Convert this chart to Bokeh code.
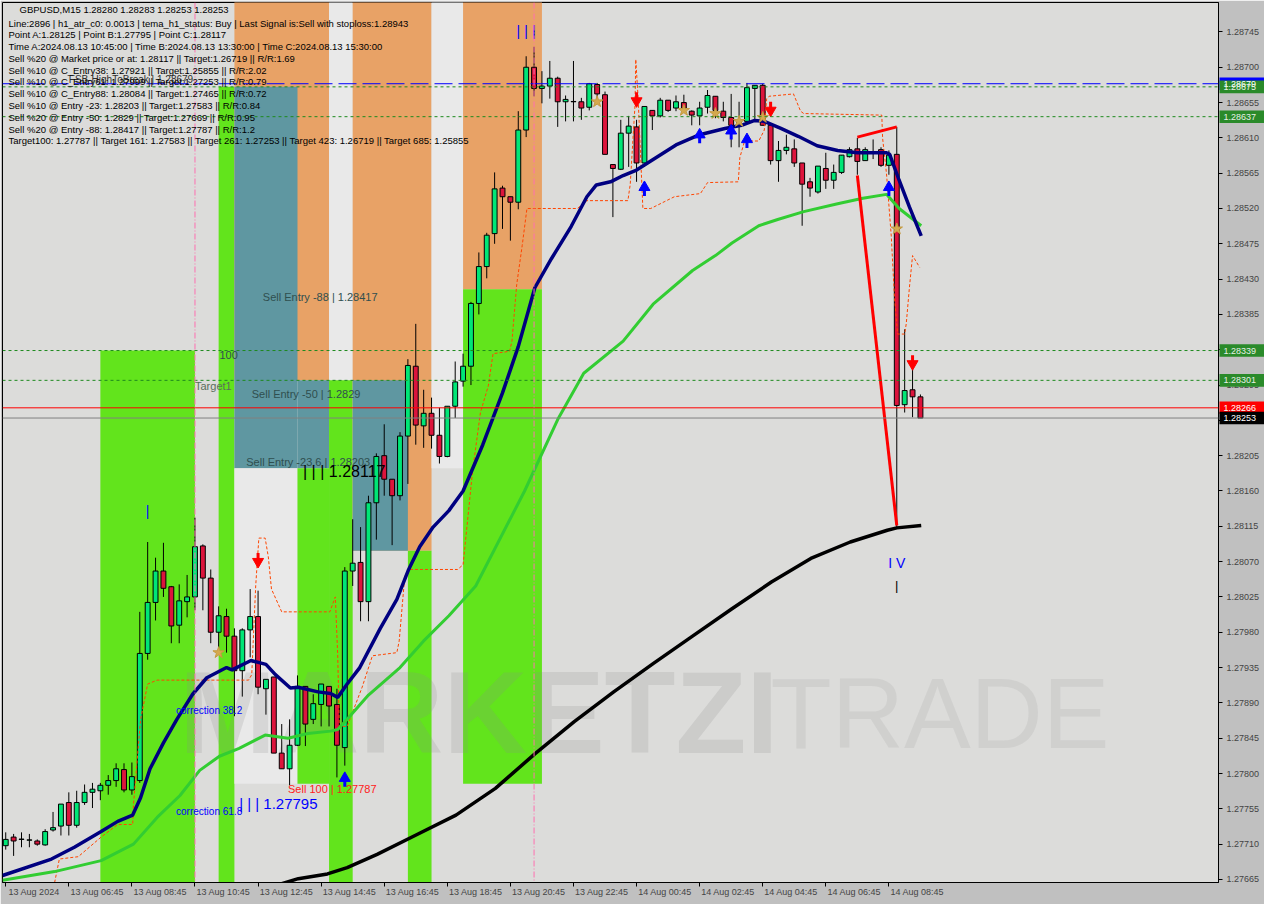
from bokeh.plotting import figure
from bokeh.layouts import row
from bokeh.models import Range1d, FixedTicker, PrintfTickFormatter, Label, Span
from bokeh.embed import file_html
from bokeh.resources import INLINE
from bokeh.core.properties import value

# ---------------- candles (GBPUSD M15, bar 0 = 13 Aug 04:45) ----------------
opens = [
    1.27708, 1.27719, 1.27716, 1.27715, 1.27714, 1.27709, 1.27728, 1.27733, 1.27763, 1.27734,
    1.27763, 1.27776, 1.27778, 1.27785, 1.27791, 1.27805, 1.27779, 1.27791, 1.27953, 1.28018,
    1.28058, 1.28038, 1.27989, 1.28019, 1.28025, 1.28090, 1.28049, 1.27980, 1.28000, 1.27975,
    1.27931, 1.27983, 1.28000, 1.27908, 1.27923, 1.27826, 1.27806, 1.27836, 1.27911, 1.27869,
    1.27888, 1.27911, 1.27888, 1.27833, 1.28058, 1.28069, 1.28019, 1.28145, 1.28205, 1.28175,
    1.28154, 1.28230, 1.28319, 1.28243, 1.28259, 1.28231, 1.28204, 1.28268, 1.28300, 1.28319,
    1.28399, 1.28446, 1.28488, 1.28546, 1.28535, 1.28528, 1.28620, 1.28700, 1.28673, 1.28676,
    1.28686, 1.28656, 1.28656, 1.28656, 1.28649, 1.28678, 1.28665, 1.28576, 1.28570, 1.28616,
    1.28624, 1.28578, 1.28645, 1.28638, 1.28658, 1.28648, 1.28655, 1.28644, 1.28638, 1.28649,
    1.28663, 1.28644, 1.28636, 1.28630, 1.28631, 1.28673, 1.28677, 1.28626, 1.28581, 1.28594,
    1.28596, 1.28578, 1.28554, 1.28541, 1.28571, 1.28556, 1.28566, 1.28586, 1.28596, 1.28581,
    1.28591, 1.28595, 1.28575, 1.28589, 1.28270, 1.28289, 1.28280]
highs = [
    1.27725, 1.27723, 1.27725, 1.27723, 1.27716, 1.27729, 1.27751, 1.27761, 1.27776, 1.27778,
    1.27786, 1.27788, 1.27788, 1.27798, 1.27813, 1.27813, 1.27814, 1.28006, 1.28095, 1.28075,
    1.28094, 1.28039, 1.28041, 1.28053, 1.28126, 1.28092, 1.28060, 1.28013, 1.28010, 1.27985,
    1.27985, 1.28035, 1.28033, 1.27920, 1.27923, 1.27863, 1.27869, 1.27925, 1.27911, 1.27901,
    1.27914, 1.27911, 1.27908, 1.28063, 1.28124, 1.28114, 1.28154, 1.28208, 1.28245, 1.28175,
    1.28235, 1.28328, 1.28373, 1.28289, 1.28279, 1.28266, 1.28268, 1.28325, 1.28335, 1.28401,
    1.28464, 1.28489, 1.28566, 1.28549, 1.28535, 1.28644, 1.28714, 1.28726, 1.28695, 1.28708,
    1.28688, 1.28664, 1.28708, 1.28661, 1.28680, 1.28680, 1.28669, 1.28576, 1.28633, 1.28638,
    1.28633, 1.28650, 1.28645, 1.28661, 1.28658, 1.28664, 1.28665, 1.28645, 1.28656, 1.28671,
    1.28663, 1.28656, 1.28666, 1.28656, 1.28680, 1.28677, 1.28679, 1.28629, 1.28606, 1.28614,
    1.28608, 1.28578, 1.28559, 1.28574, 1.28591, 1.28576, 1.28588, 1.28598, 1.28610, 1.28598,
    1.28608, 1.28598, 1.28594, 1.28624, 1.28366, 1.28316, 1.28283]
lows = [
    1.27703, 1.27695, 1.27706, 1.27706, 1.27708, 1.27708, 1.27726, 1.27721, 1.27721, 1.27731,
    1.27760, 1.27756, 1.27766, 1.27773, 1.27783, 1.27776, 1.27773, 1.27788, 1.27945, 1.27995,
    1.28025, 1.27966, 1.27966, 1.27999, 1.28008, 1.28008, 1.27966, 1.27958, 1.27954, 1.27873,
    1.27898, 1.27948, 1.27901, 1.27875, 1.27826, 1.27806, 1.27785, 1.27835, 1.27835, 1.27863,
    1.27860, 1.27860, 1.27795, 1.27810, 1.28039, 1.27994, 1.27994, 1.28098, 1.28154, 1.28091,
    1.28148, 1.28169, 1.28219, 1.28215, 1.28214, 1.28195, 1.28203, 1.28253, 1.28293, 1.28295,
    1.28385, 1.28431, 1.28475, 1.28494, 1.28479, 1.28519, 1.28611, 1.28663, 1.28654, 1.28660,
    1.28624, 1.28631, 1.28631, 1.28633, 1.28645, 1.28660, 1.28589, 1.28509, 1.28569, 1.28573,
    1.28554, 1.28573, 1.28620, 1.28636, 1.28643, 1.28644, 1.28644, 1.28626, 1.28626, 1.28641,
    1.28635, 1.28631, 1.28598, 1.28598, 1.28629, 1.28631, 1.28626, 1.28576, 1.28554, 1.28589,
    1.28573, 1.28498, 1.28535, 1.28539, 1.28545, 1.28545, 1.28564, 1.28585, 1.28563, 1.28581,
    1.28583, 1.28573, 1.28563, 1.28114, 1.28260, 1.28254, 1.28253]
closes = [
    1.27716, 1.27714, 1.27716, 1.27715, 1.27710, 1.27726, 1.27731, 1.27761, 1.27734, 1.27763,
    1.27776, 1.27780, 1.27785, 1.27791, 1.27806, 1.27779, 1.27796, 1.27953, 1.28018, 1.28058,
    1.28036, 1.27988, 1.28020, 1.28025, 1.28089, 1.28049, 1.27980, 1.28001, 1.27975, 1.27931,
    1.27983, 1.28000, 1.27910, 1.27920, 1.27826, 1.27806, 1.27836, 1.27911, 1.27863, 1.27889,
    1.27914, 1.27886, 1.27836, 1.28058, 1.28068, 1.28019, 1.28145, 1.28204, 1.28175, 1.28154,
    1.28230, 1.28320, 1.28244, 1.28259, 1.28231, 1.28204, 1.28268, 1.28299, 1.28319, 1.28399,
    1.28446, 1.28486, 1.28545, 1.28535, 1.28528, 1.28620, 1.28700, 1.28673, 1.28676, 1.28686,
    1.28656, 1.28659, 1.28656, 1.28648, 1.28679, 1.28666, 1.28589, 1.28571, 1.28616, 1.28625,
    1.28578, 1.28650, 1.28638, 1.28658, 1.28645, 1.28656, 1.28648, 1.28639, 1.28648, 1.28664,
    1.28645, 1.28636, 1.28626, 1.28629, 1.28674, 1.28677, 1.28626, 1.28581, 1.28594, 1.28598,
    1.28578, 1.28551, 1.28546, 1.28574, 1.28556, 1.28566, 1.28588, 1.28595, 1.28580, 1.28595,
    1.28591, 1.28575, 1.28588, 1.28269, 1.28288, 1.28280, 1.28253]
bar_index = list(range(len(opens)))

# ---------------- axes ----------------
time_tick_bars = [0, 8, 16, 24, 32, 40, 48, 56, 64, 72, 80, 88, 96, 104, 112]
time_tick_labels = ["13 Aug 2024", "13 Aug 06:45", "13 Aug 08:45", "13 Aug 10:45", "13 Aug 12:45",
                    "13 Aug 14:45", "13 Aug 16:45", "13 Aug 18:45", "13 Aug 20:45", "13 Aug 22:45",
                    "14 Aug 00:45", "14 Aug 02:45", "14 Aug 04:45", "14 Aug 06:45", "14 Aug 08:45"]
price_tick_values = [1.28745, 1.28700, 1.28655, 1.28610, 1.28565, 1.28520, 1.28475, 1.28430, 1.28385,
                     1.28340, 1.28295, 1.28250, 1.28205, 1.28160, 1.28115, 1.28070, 1.28025, 1.27980,
                     1.27935, 1.27890, 1.27845, 1.27800, 1.27755, 1.27710, 1.27665]

# ---------------- indicator lines ----------------
tema_x = [-0.4, 5.8, 8.7, 12.1, 14.2, 16.1, 17.1, 18.3, 20.0, 21.7, 23.7, 25.5, 28.0, 28.7, 31.1, 33.0,
          34.2, 36.1, 37.1, 39.6, 41.2, 42.1, 43.3, 44.9, 47.5, 49.6, 51.1, 52.5, 54.2, 56.2, 58.0, 60.5,
          63.0, 65.0, 67.1, 69.2, 71.7, 73.7, 74.9, 76.7, 78.3, 80.0, 82.5, 85.0, 88.0, 91.2, 93.3, 94.9,
          96.2, 98.3, 100.5, 102.9, 105.5, 108.0, 111.7, 112.1, 113.3, 114.6, 116.1]
tema_y = [1.27670, 1.27691, 1.27706, 1.27726, 1.27739, 1.27747, 1.27769, 1.27806, 1.27839, 1.27869,
          1.27901, 1.27922, 1.27935, 1.27932, 1.27944, 1.27939, 1.27926, 1.27909, 1.27910, 1.27904,
          1.27902, 1.27897, 1.27914, 1.27935, 1.27985, 1.28022, 1.28060, 1.28089, 1.28114, 1.28135,
          1.28160, 1.28219, 1.28285, 1.28344, 1.28419, 1.28456, 1.28497, 1.28535, 1.28550, 1.28554,
          1.28562, 1.28569, 1.28585, 1.28601, 1.28614, 1.28622, 1.28626, 1.28632, 1.28631, 1.28622,
          1.28612, 1.28600, 1.28594, 1.28591, 1.28591, 1.28589, 1.28556, 1.28522, 1.28485]
ma_mid_x = [-0.4, 6.2, 12.1, 16.2, 19.2, 22.1, 24.6, 27.1, 29.6, 32.9, 35.8, 38.3, 41.2, 42.1, 43.3,
            46.0, 50.0, 53.0, 56.2, 59.6, 65.8, 70.0, 73.3, 78.3, 82.1, 87.1, 90.0, 92.1, 95.5, 97.9,
            101.2, 105.5, 108.7, 111.7, 113.3, 116.1]
ma_mid_y = [1.27664, 1.27675, 1.27689, 1.27710, 1.27744, 1.27772, 1.27804, 1.27822, 1.27832, 1.27849,
            1.27845, 1.27851, 1.27854, 1.27856, 1.27869, 1.27900, 1.27935, 1.27969, 1.28001, 1.28039,
            1.28160, 1.28251, 1.28310, 1.28351, 1.28398, 1.28441, 1.28460, 1.28476, 1.28498, 1.28506,
            1.28516, 1.28526, 1.28533, 1.28538, 1.28520, 1.28498]
ma_slow_x = [33.5, 37.1, 40.8, 43.3, 47.1, 52.1, 57.1, 62.1, 67.1, 72.1, 77.1, 82.1, 87.1, 92.1, 97.1,
             102.1, 107.1, 111.8, 113.0, 116.1]
ma_slow_y = [1.27655, 1.27666, 1.27672, 1.27680, 1.27697, 1.27722, 1.27747, 1.27781, 1.27825, 1.27866,
             1.27904, 1.27940, 1.27975, 1.28010, 1.28044, 1.28074, 1.28095, 1.28110, 1.28113, 1.28116]
stop_x = [6.2, 6.8, 9.2, 12.1, 14.2, 16.1, 16.2, 17.1, 18.0, 19.2, 30.8, 31.2, 31.7, 32.1, 32.9, 33.3,
          33.7, 35.0, 41.1, 41.8, 42.1, 42.3, 43.3, 45.2, 46.5, 49.6, 49.9, 50.6, 51.1, 57.3, 58.0, 59.2,
          60.2, 61.2, 61.8, 63.9, 64.2, 64.8, 65.5, 66.1, 72.5, 73.7, 78.9, 79.2, 79.8, 79.9, 80.2, 80.8,
          81.8, 83.6, 84.8, 88.1, 89.0, 92.9, 93.1, 93.7, 95.5, 96.2, 96.5, 96.8, 99.9, 100.8, 101.2,
          111.1, 111.2, 111.7, 112.3, 112.7, 113.1, 114.0, 114.2, 114.6, 115.0, 115.9]
stop_y = [1.27661, 1.27691, 1.27694, 1.27719, 1.27735, 1.27735, 1.27760, 1.27869, 1.27914, 1.27919,
          1.27919, 1.27926, 1.28039, 1.28100, 1.28100, 1.28076, 1.28035, 1.28006, 1.28006, 1.28025,
          1.27951, 1.27860, 1.27860, 1.27910, 1.27950, 1.27954, 1.27969, 1.28051, 1.28060, 1.28060,
          1.28066, 1.28185, 1.28260, 1.28294, 1.28335, 1.28338, 1.28351, 1.28423, 1.28473, 1.28520,
          1.28520, 1.28530, 1.28530, 1.28551, 1.28651, 1.28710, 1.28660, 1.28520, 1.28520, 1.28529,
          1.28535, 1.28539, 1.28553, 1.28554, 1.28585, 1.28606, 1.28606, 1.28620, 1.28660, 1.28663,
          1.28666, 1.28644, 1.28641, 1.28639, 1.28610, 1.28564, 1.28485, 1.28408, 1.28360, 1.28360,
          1.28373, 1.28419, 1.28460, 1.28445]
abc_drop_x = [108.0, 113.0]
abc_drop_y = [1.28562, 1.28116]
abc_top_x = [108.0, 113.0]
abc_top_y = [1.28611, 1.28624]

# ---------------- zones (bars, prices) ----------------
band_x0 = [12, 27, 29, 29, 37, 29, 37, 41, 41, 44, 44, 51, 54, 58, 58]
band_x1 = [24, 29, 41, 37, 41, 37, 41, 44, 44, 54, 51, 54, 58, 68, 68]
band_y0 = [1.2765, 1.2765, 1.28301, 1.28189, 1.28189, 1.27787, 1.27787, 1.28301, 1.2765, 1.28084,
           1.28084, 1.2765, 1.28189, 1.28417, 1.27787]
band_y1 = [1.28339, 1.28675, 1.2880, 1.28675, 1.28301, 1.28189, 1.28189, 1.2880, 1.28301, 1.2880,
           1.28301, 1.28084, 1.2880, 1.2880, 1.28417]
band_kind = ["g", "g", "o", "t", "t", "w", "g", "w", "g", "o", "t", "g", "w", "o", "g"]

# ---------------- levels ----------------
dashed_green_levels = [1.28675, 1.28637, 1.28339, 1.28301]
breakout_level = 1.28679
signal_level = 1.28266
bid_level = 1.28253
marker_bars = [24, 67]
tag_prices = [1.28679, 1.28675, 1.28637, 1.28339, 1.28301, 1.28266, 1.28253]
tag_colors = ["#0000ff", "#2a8a2a", "#2a8a2a", "#2a8a2a", "#2a8a2a", "#ff0000", "#000000"]
tag_text_colors = ["#ffffff", "#e6efe6", "#e6efe6", "#e6efe6", "#e6efe6", "#ffffff", "#ffffff"]

# ---------------- signals ----------------
sell_arrow_x = [32, 80, 97, 115]
sell_arrow_y = [1.28070, 1.28657, 1.28645, 1.28322]
buy_arrow_x = [43, 81, 88, 92, 94, 112]
buy_arrow_y = [1.27794, 1.28547, 1.28614, 1.28619, 1.28608, 1.28547]
star_x = [27, 75, 86, 90, 93, 96, 113]
star_y = [1.27954, 1.28656, 1.28645, 1.28641, 1.28631, 1.28636, 1.28494]
wave_x = [18, 65, 66, 67, 113]
wave_y = [1.28135, 1.28746, 1.28746, 1.28746, 1.28068]
wave_text = ["|", "|", "|", "|", "I V"]

info_lines = [
    "GBPUSD,M15  1.28280 1.28283 1.28253 1.28253",
    "Line:2896 | h1_atr_c0: 0.0013 | tema_h1_status: Buy | Last Signal is:Sell with stoploss:1.28943",
    "Point A:1.28125 | Point B:1.27795 | Point C:1.28117",
    "Time A:2024.08.13 10:45:00 | Time B:2024.08.13 13:30:00 | Time C:2024.08.13 15:30:00",
    "Sell %20 @ Market price or at: 1.28117 || Target:1.26719 || R/R:1.69",
    "Sell %10 @ C_Entry38: 1.27921 || Target:1.25855 || R/R:2.02",
    "Sell %10 @ C_Entry61: 1.27999 || Target:1.27253 || R/R:0.79",
    "Sell %10 @ C_Entry88: 1.28084 || Target:1.27465 || R/R:0.72",
    "Sell %10 @ Entry -23: 1.28203 || Target:1.27583 || R/R:0.84",
    "Sell %20 @ Entry -50: 1.2829 || Target:1.27669 || R/R:0.95",
    "Sell %20 @ Entry -88: 1.28417 || Target:1.27787 || R/R:1.2",
    "Target100: 1.27787 || Target 161: 1.27583 || Target 261: 1.27253 || Target 423: 1.26719 || Target 685: 1.25855",
]

# annotation texts: (text, bar, price, color, size)
notes = [
    ("Sell Entry -88 | 1.28417", 32.6, 1.28415, "#2f4f4f", "11px"),
    ("Sell Entry -50 | 1.2829", 31.2, 1.28291, "#2f4f4f", "11px"),
    ("Sell Entry -23.6 | 1.28203", 30.5, 1.28204, "#2f4f4f", "11px"),
    ("| | | 1.28117", 37.7, 1.28196, "#000000", "16px"),
    ("100", 27.1, 1.28339, "#2f4f4f", "11px"),
    ("Target1", 24.0, 1.28301, "#5a6e5a", "11px"),
    ("correction 38.2", 21.6, 1.27887, "#0000ff", "10px"),
    ("correction 61.8", 21.6, 1.27758, "#0000ff", "10px"),
    ("| | | 1.27795", 29.6, 1.27773, "#0000ff", "15px"),
    ("Sell 100 | 1.27787", 35.8, 1.27788, "#ff2020", "11px"),
    ("FSB-HighToBreak | 1.28679", 8.0, 1.28692, "#303030", "10px"),
]

# ---------------- main figure ----------------
X0, X1 = -0.41, 153.8
Y0, Y1 = 1.276611, 1.287825
FRAME_H = 880
SCALE_W = 46
p = figure(width=1264, height=904, x_range=Range1d(X0, X1), y_range=Range1d(Y0, Y1),
           y_axis_location="right", output_backend="svg", toolbar_location=None,
           min_border_left=2, min_border_right=SCALE_W, min_border_top=2, min_border_bottom=22,
           background_fill_color="#dcdcda", border_fill_color="#c0c0c0",
           outline_line_color="black", outline_line_width=1)
p.xgrid.visible = False
p.ygrid.visible = False

kind_color = {"g": "#62e41c", "o": "#e8a266", "t": "#5f97a1", "w": "#e9e9e9"}
p.quad(left=band_x0, right=band_x1, bottom=band_y0, top=band_y1,
       fill_color=[kind_color[k] for k in band_kind], line_color=None)

# watermark
p.text(x=[22], y=[1.27877], text=["MARKETZI"], text_font=value("Liberation Sans"),
       text_font_style="bold", text_font_size="116px", text_color="#8a8a8a", text_alpha=0.2,
       text_baseline="alphabetic", text_align="left")
p.text(x=[97], y=[1.27877], text=["TRADE"], text_font=value("Liberation Sans"),
       text_font_size="100px", text_color="#9a9a9a", text_alpha=0.18,
       text_baseline="alphabetic", text_align="left")

# levels
for lv in dashed_green_levels:
    p.add_layout(Span(location=lv, dimension="width", line_color="#1e8a1e", line_dash="3 3", line_width=1))
p.add_layout(Span(location=breakout_level, dimension="width", line_color="#0000ff", line_dash="18 6", line_width=1))
p.add_layout(Span(location=signal_level, dimension="width", line_color="#ff0000", line_width=1))
p.add_layout(Span(location=bid_level, dimension="width", line_color="#808080", line_width=1))
for b in marker_bars:
    p.add_layout(Span(location=b, dimension="height", line_color="#ff70b0", line_dash="6 2 1 2", line_width=1))

# candles
p.segment(x0=bar_index, y0=lows, x1=bar_index, y1=highs, line_color="black", line_width=1)
body_top = [max(o, c) for o, c in zip(opens, closes)]
body_bot = [min(o, c) for o, c in zip(opens, closes)]
body_top = [t if t - b > 0.000004 else b + 0.000004 for t, b in zip(body_top, body_bot)]
body_col = ["#00e676" if c >= o else "#dc143c" for o, c in zip(opens, closes)]
p.vbar(x=bar_index, width=0.62, top=body_top, bottom=body_bot, fill_color=body_col,
       line_color="black", line_width=1)

# indicators
p.line(stop_x, stop_y, line_color="#ff4500", line_dash="3 2", line_width=1)
p.line(ma_slow_x, ma_slow_y, line_color="#000000", line_width=3.5)
p.line(ma_mid_x, ma_mid_y, line_color="#32cd32", line_width=3)
p.line(tema_x, tema_y, line_color="#000080", line_width=3.5)
p.line(abc_drop_x, abc_drop_y, line_color="#ff0000", line_width=3)
p.line(abc_top_x, abc_top_y, line_color="#ff0000", line_width=3)

# arrows and stars
shaft = 0.00011
p.segment(x0=sell_arrow_x, y0=[y + 0.00002 for y in sell_arrow_y], x1=sell_arrow_x,
          y1=[y + shaft for y in sell_arrow_y], line_color="#ff0000", line_width=3)
p.scatter(sell_arrow_x, sell_arrow_y, marker="inverted_triangle", size=11, fill_color="#ff0000",
          line_color="#ff0000")
p.segment(x0=buy_arrow_x, y0=[y - 0.00002 for y in buy_arrow_y], x1=buy_arrow_x,
          y1=[y - shaft for y in buy_arrow_y], line_color="#0000ff", line_width=3)
p.scatter(buy_arrow_x, buy_arrow_y, marker="triangle", size=11, fill_color="#0000ff",
          line_color="#0000ff")
p.scatter(star_x, star_y, marker="star", size=12, fill_color="#d4a94f", line_color="#c49a40")

p.text(x=wave_x, y=wave_y, text=wave_text, text_color="#0000ff", text_font=value("Liberation Sans"),
       text_font_size="14px", text_align="center", text_baseline="middle")
p.text(x=[113], y=[1.28040], text=["|"], text_color="#000000", text_font=value("Liberation Sans"),
       text_font_size="13px", text_align="center", text_baseline="middle")

for txt, bx, py, col, fs in notes:
    p.add_layout(Label(x=bx, y=py, text=txt, text_color=col, text_font_size=fs,
                       text_font="Liberation Sans", text_baseline="top", text_align="left"))

# info block (screen anchored, top-left)
info_top_px = [9, 23, 35, 47, 59, 71, 83, 95, 107, 119, 131, 143]
for k, line in enumerate(info_lines):
    p.add_layout(Label(x=(17 if k == 0 else 6), y=FRAME_H - (info_top_px[k] - 2) * 0.981,
                       x_units="screen", y_units="screen", text=line, text_color="black",
                       text_font_size="9.5px", text_font="Liberation Sans", text_baseline="middle",
                       text_align="left"))

# time axis: labels start at their tick (MetaTrader style); real ticks drawn as minor ticks
label_shift = 3.6
label_pos = [b + label_shift for b in time_tick_bars]
xa = p.xaxis[0]
xa.ticker = FixedTicker(ticks=label_pos, minor_ticks=time_tick_bars)
xa.major_label_overrides = dict(zip(label_pos, time_tick_labels))
xa.major_label_text_font_size = "9px"
xa.major_label_text_font = "Liberation Sans"
xa.major_label_standoff = 0
xa.major_tick_line_color = None
xa.major_tick_out = 4
xa.major_tick_in = 0
xa.minor_tick_line_color = "black"
xa.minor_tick_out = 4
xa.minor_tick_in = 0
xa.axis_line_color = "black"

ya = p.yaxis[0]
ya.ticker = FixedTicker(ticks=price_tick_values, minor_ticks=[])
ya.formatter = PrintfTickFormatter(format="%.5f")
ya.major_label_text_font_size = "9px"
ya.major_label_text_font = "Liberation Sans"
ya.major_label_standoff = 4
ya.major_tick_out = 4
ya.major_tick_in = 0
ya.axis_line_color = "black"
ya.major_tick_line_color = "black"

# ---------------- price tags over the right scale (transparent overlay) ----------------
t = figure(width=SCALE_W, height=904, x_range=Range1d(0, SCALE_W), y_range=p.y_range,
           x_axis_location=None, y_axis_location=None, output_backend="svg", toolbar_location=None,
           min_border_left=0, min_border_right=0, min_border_top=2, min_border_bottom=22,
           background_fill_alpha=0, border_fill_alpha=0, outline_line_color=None)
t.grid.visible = False
half_h = (Y1 - Y0) / FRAME_H * 6.3
t.quad(left=[1] * len(tag_prices), right=[SCALE_W] * len(tag_prices),
       bottom=[pr - half_h for pr in tag_prices], top=[pr + half_h for pr in tag_prices],
       fill_color=tag_colors, line_color=None)
t.text(x=[5] * len(tag_prices), y=tag_prices, text=[f"{pr:.5f}" for pr in tag_prices],
       text_color=tag_text_colors, text_font=value("Liberation Sans"), text_font_size="9px",
       text_baseline="middle", text_align="left")
t.styles = {"margin-left": f"-{SCALE_W}px"}

layout = row(p, t)
open("out.html", "w").write(file_html(layout, INLINE))
